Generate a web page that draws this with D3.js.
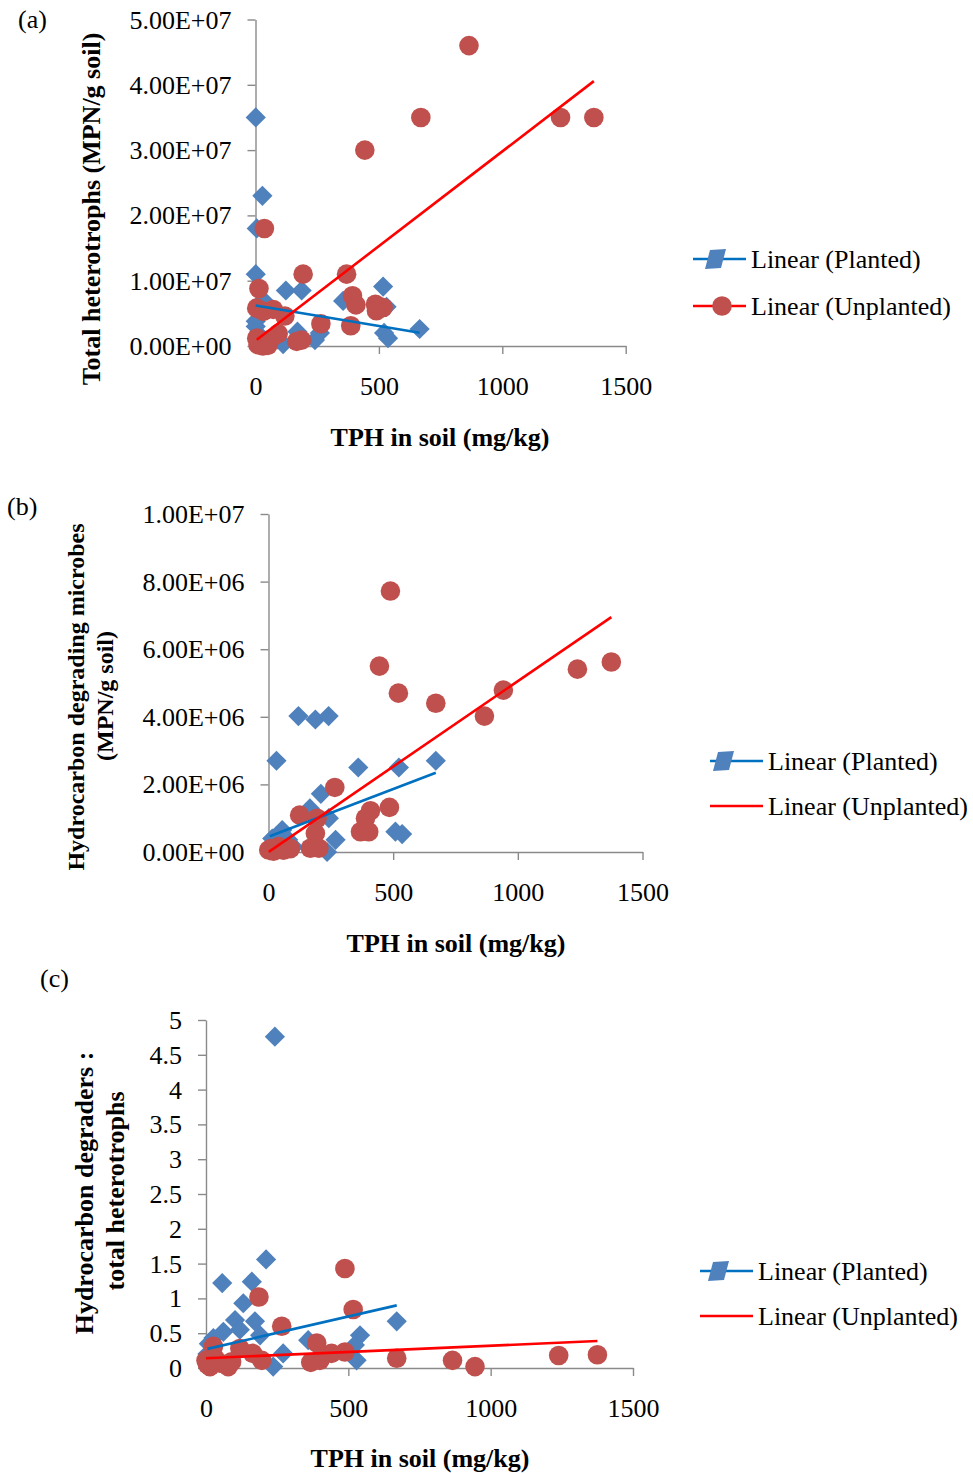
<!DOCTYPE html>
<html>
<head>
<meta charset="utf-8">
<script src="https://cdn.jsdelivr.net/npm/d3@7"></script>
<style>
  html, body { margin: 0; padding: 0; background: #fff; }
  svg { display: block; }
</style>
</head>
<body>
<svg id="chart" width="973" height="1473"></svg>
<script>
// ---------- data: [TPH mg/kg, value] ----------
// (a) total heterotrophs, MPN/g soil
const heteroPlanted = [
  [1, 3.5e7], [28, 2.3e7], [5, 1.8e7], [1, 1.1e7], [123, 0.85e7], [187, 0.85e7],
  [517, 0.91e7], [355, 0.69e7], [531, 0.6e7], [32, 0.7e7], [665, 0.26e7], [521, 0.2e7],
  [537, 0.12e7], [261, 0.2e7], [241, 0.09e7], [170, 0.22e7], [112, 0.03e7], [1, 0.38e7],
  [1, 0.3e7], [20, 0.15e7], [60, 0.05e7], [90, 0.1e7]
];
const heteroUnplanted = [
  [865, 4.6e7], [670, 3.5e7], [1236, 3.5e7], [1371, 3.5e7], [443, 3.0e7], [36, 1.8e7],
  [193, 1.1e7], [369, 1.1e7], [14, 0.88e7], [393, 0.77e7], [407, 0.63e7], [486, 0.64e7],
  [517, 0.59e7], [490, 0.54e7], [5, 0.58e7], [32, 0.53e7], [72, 0.56e7], [119, 0.46e7],
  [265, 0.34e7], [386, 0.31e7], [92, 0.19e7], [5, 0.12e7], [187, 0.09e7], [167, 0.07e7],
  [45, 0.04e7], [10, 0.02e7], [25, 0.05e7], [60, 0.1e7], [30, 0.0e7], [15, 0.08e7], [50, 0.01e7]
];
// (b) hydrocarbon degrading microbes, MPN/g soil
const degraderPlanted = [
  [120, 4.02e6], [188, 3.92e6], [241, 4.02e6], [32, 2.7e6], [360, 2.5e6], [523, 2.5e6],
  [671, 2.7e6], [210, 1.72e6], [166, 1.29e6], [242, 1.0e6], [509, 0.6e6], [536, 0.53e6],
  [269, 0.36e6], [55, 0.65e6], [79, 0.36e6], [235, 0.0e6], [15, 0.4e6], [30, 0.2e6],
  [100, 0.15e6], [5, 0.05e6]
];
const degraderUnplanted = [
  [489, 7.72e6], [445, 5.5e6], [521, 4.7e6], [671, 4.4e6], [942, 4.79e6], [866, 4.02e6],
  [1239, 5.41e6], [1375, 5.62e6], [266, 1.91e6], [125, 1.09e6], [195, 1.0e6], [409, 1.22e6],
  [485, 1.32e6], [389, 1.0e6], [369, 0.6e6], [402, 0.6e6], [188, 0.55e6], [168, 0.11e6],
  [202, 0.11e6], [88, 0.1e6], [1, 0.06e6], [41, 0.16e6], [20, 0.02e6], [60, 0.05e6], [10, 0.1e6]
];
// (c) ratio of hydrocarbon degraders to total heterotrophs
const ratioPlanted = [
  [242, 4.76], [211, 1.56], [57, 1.22], [161, 1.24], [131, 0.93], [102, 0.69], [172, 0.67],
  [61, 0.52], [119, 0.55], [190, 0.47], [26, 0.43], [359, 0.40], [541, 0.47], [523, 0.33],
  [670, 0.67], [271, 0.21], [529, 0.11], [236, 0.02], [10, 0.35], [5, 0.2]
];
const ratioUnplanted = [
  [488, 1.43], [186, 1.02], [517, 0.84], [266, 0.60], [389, 0.36], [488, 0.23], [441, 0.21],
  [406, 0.16], [368, 0.08], [400, 0.11], [119, 0.28], [164, 0.21], [196, 0.11], [90, 0.09],
  [26, 0.31], [0, 0.11], [14, 0.02], [49, 0.07], [78, 0.02], [670, 0.14], [866, 0.11],
  [945, 0.02], [1239, 0.18], [1375, 0.19], [5, 0.05], [30, 0.15]
];

// linear trend lines: [intercept, slope]
const trendHeteroPlanted = [6.2e6, -6270];
const trendHeteroUnplanted = [0.8e6, 29000];
const trendDegraderPlanted = [0.45e6, 2820];
const trendDegraderUnplanted = [0, 5055];
const trendRatioPlanted = [0.27, 9.4e-4];
const trendRatioUnplanted = [0.14, 1.8e-4];

// ticks
const xTicks = [0, 500, 1000, 1500];
const yTicksA = [0, 1e7, 2e7, 3e7, 4e7, 5e7];
const yTicksB = [0, 2e6, 4e6, 6e6, 8e6, 1e7];
const yTicksC = [0, 0.5, 1, 1.5, 2, 2.5, 3, 3.5, 4, 4.5, 5];

const legendLabels = ["Linear (Planted)", "Linear (Unplanted)"];

// ---------- styling ----------
const FONT = '"Times New Roman", "Liberation Serif", serif';
const FS = 26;
const BLUE = "#4F81BD", RED = "#C0504D";
const BLUE_LINE = "#0070C0", RED_LINE = "#FF0000";
const AXIS = "#8a8a8a";

const sci = v => {
  const [m, e] = v.toExponential(2).split("e");
  const sign = e[0] === "-" ? "-" : "+";
  const n = Math.abs(+e);
  return m + "E" + sign + (n < 10 ? "0" + n : n);
};
const plain = d3.format("~g");

const svg = d3.select("#chart");

function panel(cfg) {
  const g = svg.append("g");
  const x = d3.scaleLinear().domain([0, 1500]).range([cfg.x0, cfg.x1]);
  const y = d3.scaleLinear().domain([0, cfg.yMax]).range([cfg.y0, cfg.y1]);

  // axes
  const yAxis = g.append("g").attr("transform", `translate(${cfg.x0},0)`)
    .call(d3.axisLeft(y).tickValues(cfg.yTicks).tickFormat(cfg.fmt)
      .tickSize(8).tickSizeOuter(0).tickPadding(16));
  const xAxis = g.append("g").attr("transform", `translate(0,${cfg.y0})`)
    .call(d3.axisBottom(x).tickValues(xTicks).tickFormat(d3.format("d"))
      .tickSize(8).tickSizeOuter(0));
  [yAxis, xAxis].forEach(a => {
    a.select(".domain").attr("stroke", AXIS).attr("stroke-width", 1.4);
    a.selectAll(".tick line").attr("stroke", AXIS).attr("stroke-width", 1.4);
    a.selectAll("text").attr("fill", "#000").style("font-family", FONT).style("font-size", FS + "px");
  });
  yAxis.selectAll("text").attr("dy", "0.33em");
  xAxis.selectAll("text").attr("dy", null).attr("y", 49);

  // markers: planted diamonds, then unplanted circles
  const diamond = d3.symbol().type(d3.symbolDiamond2).size(260);
  g.append("g").selectAll("path").data(cfg.planted).join("path")
    .attr("d", diamond)
    .attr("transform", d => `translate(${x(d[0])},${y(d[1])})`)
    .attr("fill", BLUE);
  g.append("g").selectAll("circle").data(cfg.unplanted).join("circle")
    .attr("cx", d => x(d[0])).attr("cy", d => y(d[1])).attr("r", 9.8)
    .attr("fill", RED);

  // trend lines over each series' x extent
  const trend = (data, coef, color) => {
    const xs = [d3.min(data, d => d[0]), d3.max(data, d => d[0])];
    g.append("line")
      .attr("x1", x(xs[0])).attr("y1", y(coef[0] + coef[1] * xs[0]))
      .attr("x2", x(xs[1])).attr("y2", y(coef[0] + coef[1] * xs[1]))
      .attr("stroke", color).attr("stroke-width", 2.6);
  };
  trend(cfg.planted, cfg.trendP, BLUE_LINE);
  trend(cfg.unplanted, cfg.trendU, RED_LINE);

  // axis titles
  g.append("text").attr("x", cfg.xTitle[0]).attr("y", cfg.xTitle[1])
    .attr("text-anchor", "middle").style("font-family", FONT).style("font-size", FS + "px")
    .style("font-weight", "bold").text("TPH in soil (mg/kg)");
  cfg.yTitle.forEach(t => {
    g.append("text").attr("transform", `translate(${t[0]},${t[1]}) rotate(-90)`)
      .attr("text-anchor", "middle").style("font-family", FONT)
      .style("font-size", (cfg.yTitleSize || FS) + "px")
      .style("font-weight", "bold").text(t[2]);
  });
  // panel letter
  g.append("text").attr("x", cfg.tag[0]).attr("y", cfg.tag[1])
    .style("font-family", FONT).style("font-size", FS + "px").text(cfg.tag[2]);

  // legend
  const lg = g.append("g");
  const L = cfg.legend;
  lg.append("line").attr("x1", L.x).attr("x2", L.x + 53).attr("y1", L.y1).attr("y2", L.y1)
    .attr("stroke", BLUE_LINE).attr("stroke-width", 2.6);
  lg.append("path").attr("d", "M-5,-9 L11,-10 L6,9 L-10,10 Z")
    .attr("transform", `translate(${L.x + L.dm},${L.y1})`).attr("fill", BLUE);
  lg.append("line").attr("x1", L.x).attr("x2", L.x + 53).attr("y1", L.y2).attr("y2", L.y2)
    .attr("stroke", RED_LINE).attr("stroke-width", 2.6);
  if (L.circle) {
    lg.append("circle").attr("cx", L.x + 29).attr("cy", L.y2).attr("r", 9.8).attr("fill", RED);
  }
  [L.y1, L.y2].forEach((yy, i) => {
    lg.append("text").attr("x", L.x + 58).attr("y", yy + 9)
      .style("font-family", FONT).style("font-size", FS + "px").text(legendLabels[i]);
  });
}

panel({
  x0: 255.5, x1: 625.7, y0: 346, y1: 19.5, yMax: 5e7, yTicks: yTicksA, fmt: sci,
  planted: heteroPlanted, unplanted: heteroUnplanted,
  trendP: trendHeteroPlanted, trendU: trendHeteroUnplanted,
  xTitle: [440, 446],
  yTitle: [[100, 209, "Total heterotrophs (MPN/g soil)"]],
  tag: [18, 28, "(a)"],
  legend: { x: 693, y1: 259, y2: 306, dm: 22, circle: true }
});

panel({
  x0: 268.5, x1: 642.5, y0: 852, y1: 514, yMax: 1e7, yTicks: yTicksB, fmt: sci,
  planted: degraderPlanted, unplanted: degraderUnplanted,
  trendP: trendDegraderPlanted, trendU: trendDegraderUnplanted,
  xTitle: [456, 952],
  yTitleSize: 24,
  yTitle: [[84, 697, "Hydrocarbon degrading microbes"], [113, 696, "(MPN/g soil)"]],
  tag: [7, 515, "(b)"],
  legend: { x: 710, y1: 761, y2: 806, dm: 13, circle: false }
});

panel({
  x0: 206, x1: 633, y0: 1368, y1: 1020, yMax: 5, yTicks: yTicksC, fmt: plain,
  planted: ratioPlanted, unplanted: ratioUnplanted,
  trendP: trendRatioPlanted, trendU: trendRatioUnplanted,
  xTitle: [420, 1467],
  yTitle: [[93, 1193, "Hydrocarbon degraders :"], [124, 1191, "total heterotrophs"]],
  tag: [40, 987, "(c)"],
  legend: { x: 700, y1: 1271, y2: 1316, dm: 18, circle: false }
});
</script>
</body>
</html>
